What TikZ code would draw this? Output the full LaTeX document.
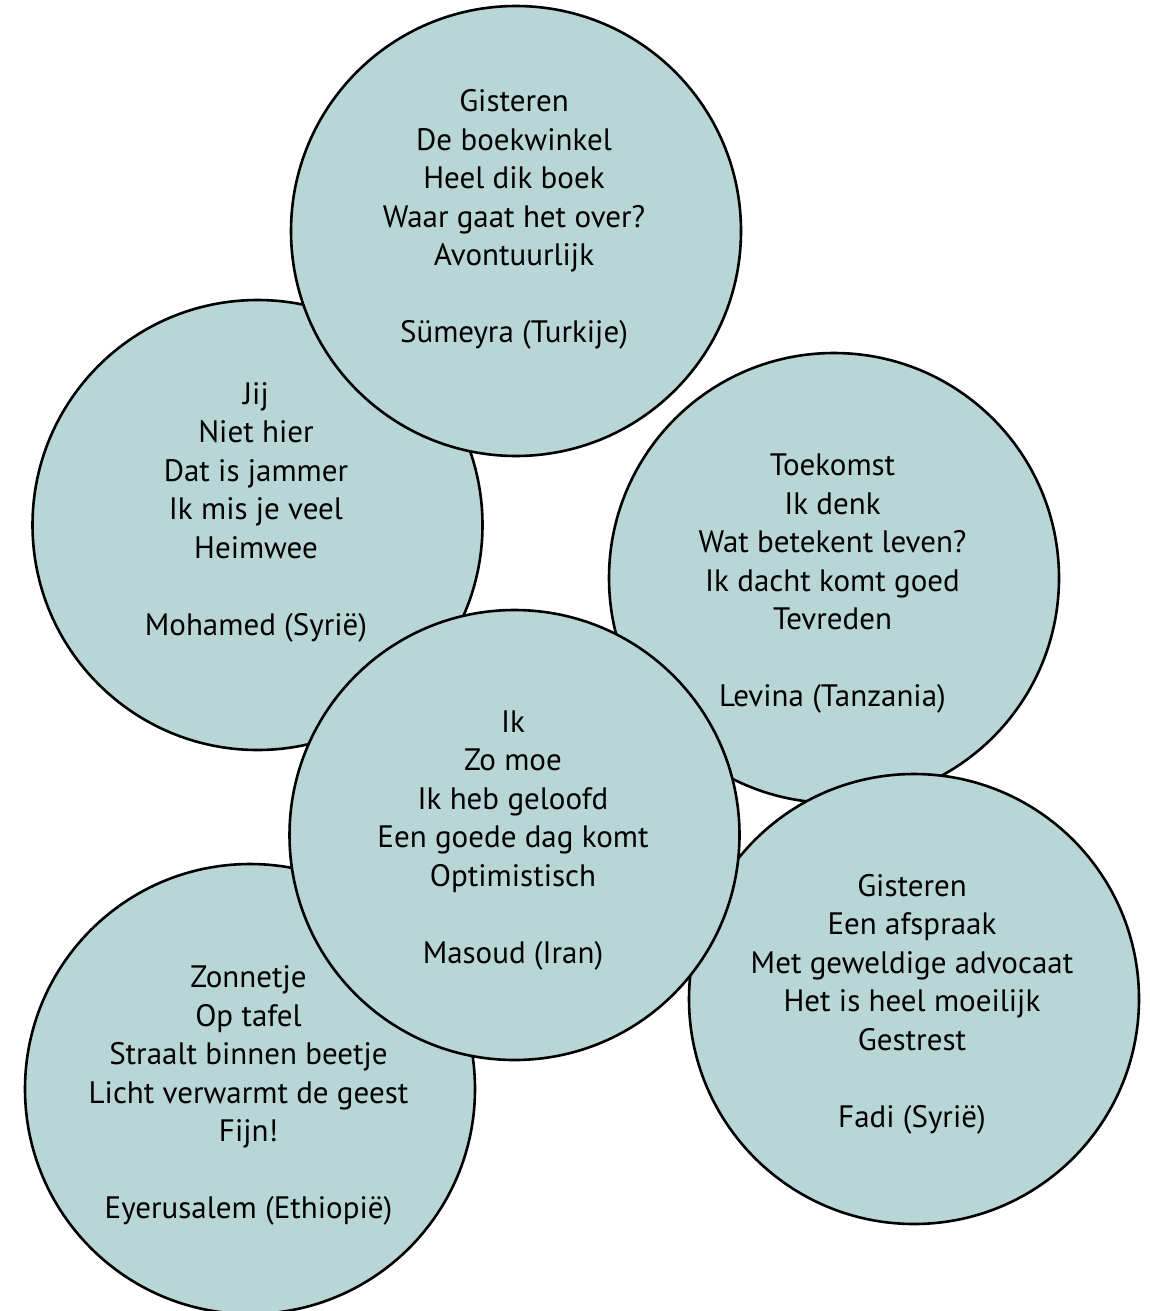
\documentclass[tikz,border=0pt]{standalone}
\usepackage{fontspec}
\setmainfont{PT Sans}
\usetikzlibrary{positioning}
\definecolor{bubblefill}{RGB}{184,214,214}

\begin{document}
\begin{tikzpicture}[
    x=1pt, y=-1pt,
    bubble/.style={circle, draw=black, line width=2.6pt, fill=bubblefill, minimum size=450pt, inner sep=0pt},
    verse/.style={align=center, font=\fontsize{31}{38.5}\selectfont}
]
    \useasboundingbox (0,0) rectangle (1149,1311);

    % circles, back to front
    \node[bubble] (mohamed) at (257.5,525) {};
    \node[bubble] (sumeyra) at (516,231) {};
    \node[bubble] (levina) at (834,578) {};
    \node[bubble] (eyerusalem) at (250,1089) {};
    \node[bubble] (fadi) at (914,999) {};
    \node[bubble] (masoud) at (514.5,835) {};

    % poems
    \node[verse] (sumeyratxt) at (514,219.5) {Gisteren\\De boekwinkel\\Heel dik boek\\Waar gaat het over?\\Avontuurlijk\\[38.5pt]Sümeyra (Turkije)};
    \node[verse] (mohamedtxt) at (256,512) {Jij\\Niet hier\\Dat is jammer\\Ik mis je veel\\Heimwee\\[38.5pt]Mohamed (Syrië)};
    \node[verse] (levinatxt) at (832.5,584) {Toekomst\\Ik denk\\Wat betekent leven?\\Ik dacht komt goed\\Tevreden\\[38.5pt]Levina (Tanzania)};
    \node[verse] (masoudtxt) at (513,840.5) {Ik\\Zo moe\\Ik heb geloofd\\Een goede dag komt\\Optimistisch\\[38.5pt]Masoud (Iran)};
    \node[verse] (eyerusalemtxt) at (248.5,1095.5) {Zonnetje\\Op tafel\\Straalt binnen beetje\\Licht verwarmt de geest\\Fijn!\\[38.5pt]Eyerusalem (Ethiopië)};
    \node[verse] (faditxt) at (912,1004) {Gisteren\\Een afspraak\\Met geweldige advocaat\\Het is heel moeilijk\\Gestrest\\[38.5pt]Fadi (Syrië)};
\end{tikzpicture}
\end{document}
